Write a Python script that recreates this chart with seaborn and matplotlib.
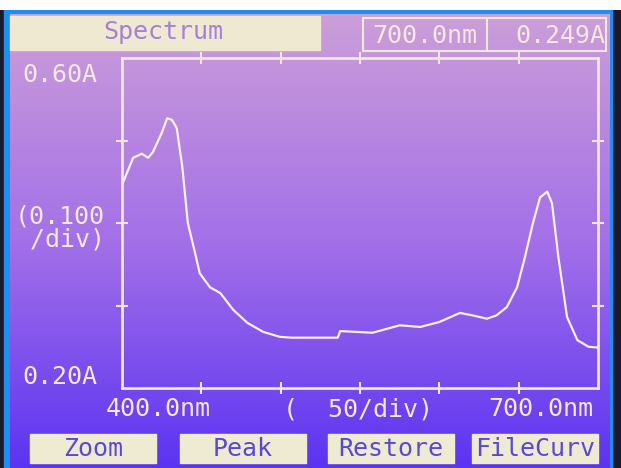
import numpy as np
import matplotlib.pyplot as plt
import matplotlib.patches as mpatches
import seaborn as sns
import pandas as pd

# 스펙트럼 데이터 (사진에서 읽은 값)
wavelength = [400, 407, 412.5, 416.5, 419.5, 425, 428.5, 431.5, 434.5, 438,
              441.5, 446, 449, 455.5, 462, 470, 479, 489, 499.5, 507,
              536, 537.5, 558, 575, 588, 600, 613, 621, 630, 636,
              642.5, 649, 654, 659, 663.5, 668, 671, 675, 680.5, 687,
              694, 700]
absorbance = [0.446, 0.479, 0.484, 0.479, 0.486, 0.509, 0.527, 0.525, 0.515, 0.468,
              0.400, 0.364, 0.339, 0.322, 0.315, 0.295, 0.279, 0.268, 0.262, 0.261,
              0.261, 0.269, 0.267, 0.276, 0.274, 0.280, 0.291, 0.288, 0.284, 0.288,
              0.298, 0.322, 0.359, 0.400, 0.431, 0.438, 0.424, 0.359, 0.286, 0.258,
              0.250, 0.249]

x_ticks = [450, 500, 550, 600, 650]
y_ticks = [0.3, 0.4, 0.5]
buttons = ['Zoom', 'Peak', 'Restore', 'FileCurv']

df = pd.DataFrame({'nm': wavelength, 'A': absorbance})

W, H = 621, 468
fig = plt.figure(figsize=(W / 100, H / 100), dpi=100)
fig.patch.set_facecolor('white')

def fx(px):
    return px / W

def fy(py):
    return 1 - py / H

# 화면 테두리 + 배경 그라데이션
frame = fig.add_axes([0, 0, 1, fy(10)])
frame.set_axis_off()
frame.set_xlim(0, 1)
frame.set_ylim(0, 1)
frame.add_patch(mpatches.Rectangle((0, 0), 1, 1, color='#1a1a2a'))
frame.add_patch(mpatches.Rectangle((fx(4), 0), fx(608), 1, color='#1e8ef0'))

bg = fig.add_axes([fx(10), 0, fx(600), fy(14)])
bg.set_axis_off()
top = np.array([0.80, 0.62, 0.85])
mid = np.array([0.64, 0.44, 0.91])
bot = np.array([0.36, 0.20, 0.95])
t = np.linspace(0, 1, 200)[:, None]
col = np.where(t < 0.5, top + (mid - top) * (t / 0.5), mid + (bot - mid) * ((t - 0.5) / 0.5))
img = np.repeat(col[:, None, :], 20, axis=1)
bg.imshow(img, aspect='auto', extent=[0, 1, 0, 1])

# 그래프
ax = fig.add_axes([fx(122), fy(388), fx(598 - 122), fy(58) - fy(388)])
ax.patch.set_alpha(0)
sns.lineplot(data=df, x='nm', y='A', color='#f8f0ec', lw=1.6, ax=ax)
ax.set_xlim(400, 700)
ax.set_ylim(0.2, 0.6)
ax.set_xticks(x_ticks)
ax.set_yticks(y_ticks)
ax.set_xticklabels([])
ax.set_yticklabels([])
ax.set_xlabel('')
ax.set_ylabel('')
ax.tick_params(direction='inout', length=8, width=1.5, colors='#f0e6dc',
               top=True, right=True)
for s in ax.spines.values():
    s.set_color('#f0e6dc')
    s.set_linewidth(2)

txt = '#f4e8e0'
font = 'DejaVu Sans Mono'

# 상단 헤더
fig.patches.append(mpatches.Rectangle((fx(10), fy(50)), fx(310), fy(16) - fy(50),
                                      transform=fig.transFigure, color='#efe9d2'))
fig.text(fx(163), fy(32), 'Spectrum', color='#a77fd8', fontsize=18,
         family=font, ha='center', va='center')
fig.patches.append(mpatches.Rectangle((fx(363), fy(51)), fx(243), fy(18) - fy(51),
                                      transform=fig.transFigure, fill=False,
                                      ec='#f0e6dc', lw=1.5))
fig.lines.append(plt.Line2D([fx(487), fx(487)], [fy(51), fy(18)],
                            transform=fig.transFigure, color='#f0e6dc', lw=1.5))
fig.text(fx(425), fy(36), '700.0nm', color=txt, fontsize=18, family=font,
         ha='center', va='center')
fig.text(fx(605), fy(36), '0.249A', color=txt, fontsize=18, family=font,
         ha='right', va='center')

# 축 라벨
fig.text(fx(60), fy(75), '0.60A', color=txt, fontsize=18, family=font,
         ha='center', va='center')
fig.text(fx(60), fy(228), '(0.100\n /div)', color=txt, fontsize=18, family=font,
         ha='center', va='center', linespacing=0.9)
fig.text(fx(60), fy(377), '0.20A', color=txt, fontsize=18, family=font,
         ha='center', va='center')
fig.text(fx(158), fy(409), '400.0nm', color=txt, fontsize=18, family=font,
         ha='center', va='center')
fig.text(fx(358), fy(409), '(  50/div)', color=txt, fontsize=18, family=font,
         ha='center', va='center')
fig.text(fx(541), fy(409), '700.0nm', color=txt, fontsize=18, family=font,
         ha='center', va='center')

# 하단 버튼
btn_x = [30, 180, 328, 472]
for bx, label in zip(btn_x, buttons):
    fig.patches.append(mpatches.Rectangle((fx(bx), fy(463)), fx(126), fy(434) - fy(463),
                                          transform=fig.transFigure, color='#efebd2'))
    fig.text(fx(bx + 63), fy(449), label, color='#5a48d8', fontsize=18,
             family=font, ha='center', va='center')

fig.savefig('out.png', dpi=100)
